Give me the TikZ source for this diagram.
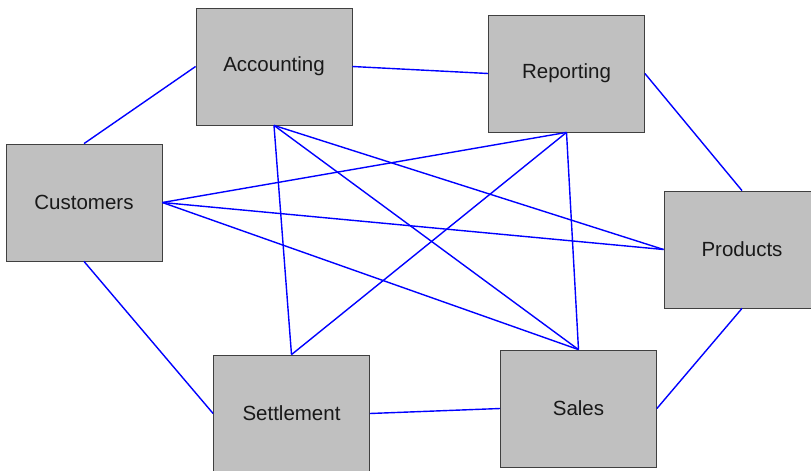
\documentclass[tikz,border=0pt]{standalone}
\usepackage{fontspec}
\setmainfont{Liberation Sans}
\begin{document}
\begin{tikzpicture}[x=1pt,y=-1pt,
  entity/.style={draw=black!75, line width=0.8pt, fill={rgb,255:red,192;green,192;blue,192},
    minimum width=156pt, minimum height=117pt, inner sep=0pt,
    font=\fontsize{20.5}{24}\selectfont, text=black!90},
  link/.style={draw={rgb,255:red,0;green,0;blue,255}, line width=1.4pt}]
  \useasboundingbox (0,0) rectangle (811,471);
  \clip (0,0) rectangle (811,471);
  % entity boxes
  \node[entity] (acc) at (274,66.5) {Accounting};
  \node[entity] (rep) at (566.5,73.5) {Reporting};
  \node[entity] (cus) at (84,202.5) {Customers};
  \node[entity] (pro) at (742,249.5) {Products};
  \node[entity] (set) at (291.5,413.5) {Settlement};
  \node[entity] (sal) at (578.5,408.5) {Sales};
  % ring of neighbouring links
  \draw[link] (cus.north) -- (acc.west);
  \draw[link] (acc.east) -- (rep.west);
  \draw[link] (rep.east) -- (pro.north);
  \draw[link] (pro.south) -- (sal.east);
  \draw[link] (set.east) -- (sal.west);
  \draw[link] (cus.south) -- (set.west);
  % cross links
  \draw[link] (cus.east) -- (rep.south);
  \draw[link] (cus.east) -- (pro.west);
  \draw[link] (cus.east) -- (sal.north);
  \draw[link] (acc.south) -- (set.north);
  \draw[link] (acc.south) -- (sal.north);
  \draw[link] (acc.south) -- (pro.west);
  \draw[link] (rep.south) -- (set.north);
  \draw[link] (rep.south) -- (sal.north);
\end{tikzpicture}
\end{document}
